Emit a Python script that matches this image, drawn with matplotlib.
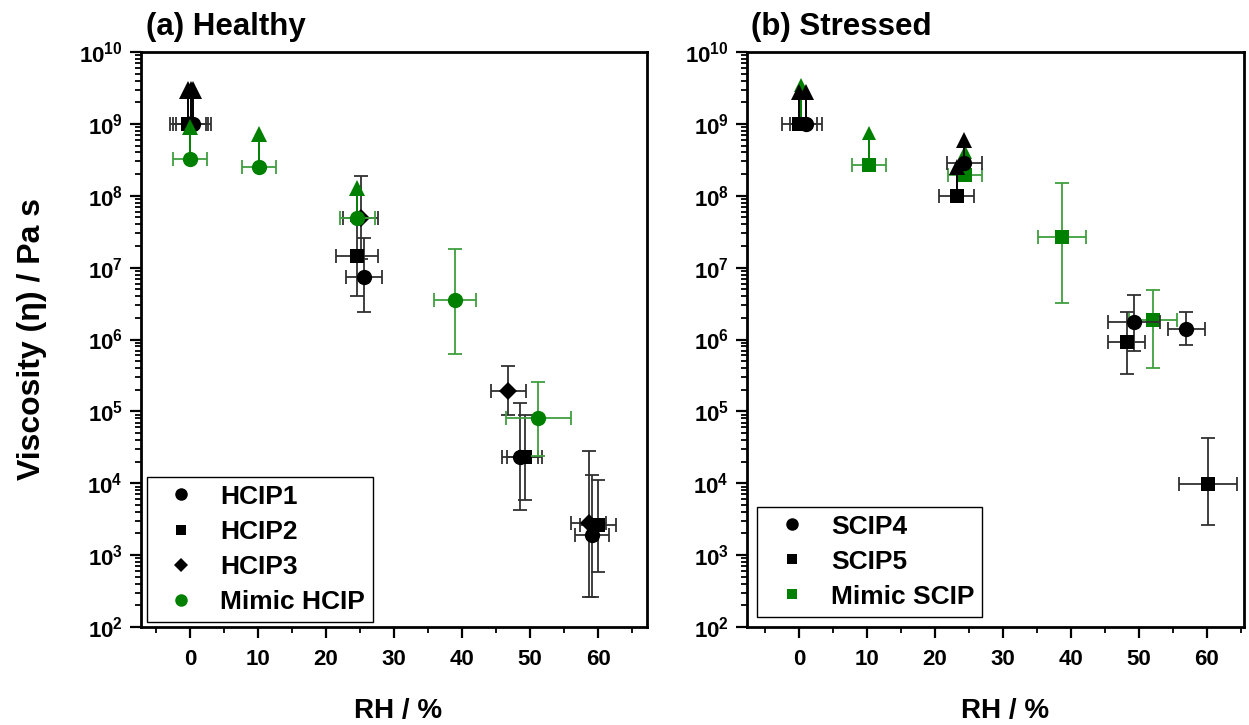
import numpy as np
import matplotlib
matplotlib.use("Agg")
import matplotlib.pyplot as plt
from matplotlib.lines import Line2D
from matplotlib.ticker import LogLocator, MultipleLocator, FuncFormatter, NullFormatter

plt.rcParams['font.family'] = ['Liberation Sans', 'DejaVu Sans']
plt.rcParams['font.weight'] = 'bold'
plt.rcParams['mathtext.fontset'] = 'custom'
plt.rcParams['mathtext.bf'] = 'Liberation Sans:bold'
plt.rcParams['mathtext.rm'] = 'Liberation Sans:bold'

nan = np.nan

# ---------------- (a) Healthy ----------------
hcip1_rh   = [0.5, 25.6, 48.5, 59.1]
hcip1_eta  = [1e9, 7.4e6, 2.3e4, 1.9e3]
hcip1_xerr = [2.6, 2.6, 2.6, 2.5]
hcip1_lo   = [nan, 2.4e6, 4.2e3, 2.6e2]
hcip1_hi   = [nan, 2.6e7, 1.3e5, 1.3e4]
hcip1_lim  = [3e9, nan, nan, nan]

hcip2_rh   = [-0.3, 24.6, 49.2, 60.0]
hcip2_eta  = [1e9, 1.45e7, 2.3e4, 2.6e3]
hcip2_xerr = [2.6, 3.1, 2.6, 2.6]
hcip2_lo   = [nan, 4e6, 5.9e3, 5.9e2]
hcip2_hi   = [nan, 4.5e7, 8.8e4, 1.1e4]
hcip2_lim  = [3e9, nan, nan, nan]

hcip3_rh   = [0.1, 25.1, 46.8, 58.6]
hcip3_eta  = [1e9, 4.9e7, 1.95e5, 2.8e3]
hcip3_xerr = [2.6, 2.6, 2.6, 2.6]
hcip3_lo   = [nan, 1.3e7, 9e4, 2.6e2]
hcip3_hi   = [nan, 1.9e8, 4.3e5, 2.8e4]
hcip3_lim  = [3e9, nan, nan, nan]

mhcip_rh   = [0.0, 10.1, 24.6, 39.0, 51.2]
mhcip_eta  = [3.2e8, 2.5e8, 4.9e7, 3.5e6, 8.1e4]
mhcip_xerr = [2.5, 2.5, 2.6, 3.1, 4.8]
mhcip_lo   = [nan, nan, nan, 6.3e5, 2.4e4]
mhcip_hi   = [nan, nan, nan, 1.8e7, 2.6e5]
mhcip_lim  = [9e8, 7.2e8, 1.3e8, nan, nan]

# ---------------- (b) Stressed ----------------
scip4_rh   = [1.0, 24.3, 49.3, 57.0]
scip4_eta  = [1e9, 2.9e8, 1.74e6, 1.4e6]
scip4_xerr = [2.4, 2.55, 3.8, 2.75]
scip4_lo   = [nan, nan, 7e5, 8.5e5]
scip4_hi   = [nan, nan, 4.1e6, 2.4e6]
scip4_lim  = [2.8e9, 6e8, nan, nan]

scip5_rh   = [0.0, 23.2, 48.2, 60.2]
scip5_eta  = [1e9, 1e8, 9.3e5, 9.8e3]
scip5_xerr = [2.6, 2.6, 2.7, 4.25]
scip5_lo   = [nan, nan, 3.3e5, 2.6e3]
scip5_hi   = [nan, nan, 2.4e6, 4.3e4]
scip5_lim  = [2.8e9, 2.5e8, nan, nan]

mscip_rh   = [0.3, 10.2, 24.4, 38.7, 52.1]
mscip_eta  = [1e9, 2.7e8, 1.95e8, 2.7e7, 1.86e6]
mscip_xerr = [nan, 2.5, 2.5, 3.5, 3.5]
mscip_lo   = [nan, nan, nan, 3.2e6, 4e5]
mscip_hi   = [nan, nan, nan, 1.5e8, 4.9e6]
mscip_lim  = [3.5e9, 7.4e8, 4.1e8, nan, nan]

titles = ['(a) Healthy', '(b) Stressed']
legend_a = ['HCIP1', 'HCIP2', 'HCIP3', 'Mimic HCIP']
legend_b = ['SCIP4', 'SCIP5', 'Mimic SCIP']
xticks = [0, 10, 20, 30, 40, 50, 60]

GREEN = '#008000'
BLACK = '#000000'


def draw(ax, rh, eta, xerr, lo, hi, lim, marker, color, ms, ecolor, z, tri_ms):
    rh = np.array(rh, float)
    eta = np.array(eta, float)
    lo = np.array(lo, float)
    hi = np.array(hi, float)
    lim = np.array(lim, float)
    yerr = np.vstack([eta - lo, hi - eta])
    ax.errorbar(rh, eta, xerr=np.array(xerr, float), yerr=yerr, fmt='none',
                ecolor=ecolor, elinewidth=1.3, capsize=5, capthick=1.3, zorder=z)
    m = ~np.isnan(lim)
    if m.any():
        ax.vlines(rh[m], eta[m], lim[m], colors=color, linewidth=1.4, zorder=z)
        ax.plot(rh[m], lim[m], linestyle='none', marker='^', color=color,
                markersize=tri_ms, markeredgewidth=0, zorder=z + 0.5)
    ax.plot(rh, eta, linestyle='none', marker=marker, color=color,
            markersize=ms, markeredgewidth=0, zorder=z + 0.6)


fig = plt.figure(figsize=(12.49, 7.25), dpi=100)
W, H = 1249, 725
axA = fig.add_axes([141 / W, 1 - 627 / H, (647 - 141) / W, (627 - 52) / H])
axB = fig.add_axes([747 / W, 1 - 627 / H, (1244 - 747) / W, (627 - 52) / H])

ECB = '#303030'
ECG = '#3f9f3f'

draw(axA, hcip2_rh, hcip2_eta, hcip2_xerr, hcip2_lo, hcip2_hi, hcip2_lim, 's', BLACK, 10, ECB, 3, 13)
draw(axA, hcip3_rh, hcip3_eta, hcip3_xerr, hcip3_lo, hcip3_hi, hcip3_lim, 'D', BLACK, 9, ECB, 3, 13)
draw(axA, hcip1_rh, hcip1_eta, hcip1_xerr, hcip1_lo, hcip1_hi, hcip1_lim, 'o', BLACK, 11, ECB, 3, 13)
draw(axA, mhcip_rh, mhcip_eta, mhcip_xerr, mhcip_lo, mhcip_hi, mhcip_lim, 'o', GREEN, 11, ECG, 4, 11)

draw(axB, mscip_rh, mscip_eta, mscip_xerr, mscip_lo, mscip_hi, mscip_lim, 's', GREEN, 10, ECG, 2, 10)
draw(axB, scip5_rh, scip5_eta, scip5_xerr, scip5_lo, scip5_hi, scip5_lim, 's', BLACK, 10, ECB, 3, 11)
draw(axB, scip4_rh, scip4_eta, scip4_xerr, scip4_lo, scip4_hi, scip4_lim, 'o', BLACK, 11, ECB, 3, 11)

for ax, xl in [(axA, (-7.2, 67.2)), (axB, (-7.7, 65.5))]:
    ax.set_yscale('log')
    ax.set_ylim(1e2, 1e10)
    ax.set_xlim(*xl)
    ax.set_xticks(xticks)
    ax.xaxis.set_minor_locator(MultipleLocator(5))
    ax.yaxis.set_major_locator(LogLocator(base=10, numticks=20))
    ax.yaxis.set_minor_locator(LogLocator(base=10, subs=np.arange(2, 10), numticks=20))
    ax.yaxis.set_minor_formatter(NullFormatter())
    ax.yaxis.set_major_formatter(FuncFormatter(lambda v, p: r'$\mathbf{10^{%d}}$' % round(np.log10(v))))
    ax.tick_params(which='major', direction='out', length=8, width=1.6, labelsize=16, pad=5)
    ax.tick_params(which='minor', direction='out', length=4.5, width=1.3)
    ax.tick_params(axis='x', which='major', pad=8)
    for s in ax.spines.values():
        s.set_linewidth(2.0)
    for lab in ax.get_xticklabels():
        lab.set_fontweight('bold')

def leg(ax, labels, markers, colors, sizes, anchor):
    handles = [Line2D([], [], linestyle='none', marker=m, color=c, markersize=s, markeredgewidth=0)
               for m, c, s in zip(markers, colors, sizes)]
    L = ax.legend(handles, labels, loc='lower left', bbox_to_anchor=anchor, borderaxespad=0,
                  fancybox=False, edgecolor='black', framealpha=1, handlelength=2.0,
                  handletextpad=0.48, borderpad=0.3, labelspacing=0.42,
                  prop={'size': 19, 'weight': 'bold'})
    L.get_frame().set_linewidth(1.0)
    L.set_zorder(10)

leg(axA, legend_a, ['o', 's', 'D', 'o'], [BLACK, BLACK, BLACK, GREEN], [9, 7, 7.5, 9], (0.011, 0.009))
leg(axB, legend_b, ['o', 's', 's'], [BLACK, BLACK, GREEN], [9, 7, 7], (0.021, 0.018))

fig.text(146 / W, 1 - 35 / H, titles[0], fontsize=22.5, fontweight='bold', va='baseline', ha='left')
fig.text(751 / W, 1 - 35 / H, titles[1], fontsize=22.5, fontweight='bold', va='baseline', ha='left')
fig.text(398 / W, 1 - 718 / H, 'RH / %', fontsize=20, fontweight='bold', ha='center', va='baseline')
fig.text(1005 / W, 1 - 718 / H, 'RH / %', fontsize=20, fontweight='bold', ha='center', va='baseline')
fig.text(32 / W, 1 - 339 / H, 'Viscosity (η) / Pa s', fontsize=23, fontweight='bold',
         rotation=90, ha='center', va='center')

fig.savefig('out.png', dpi=100)
